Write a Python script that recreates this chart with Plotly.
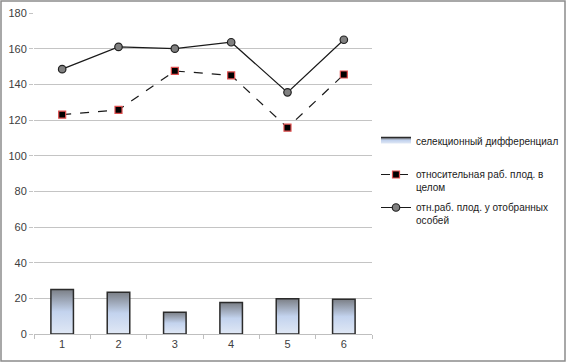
import plotly.graph_objects as go

categories = [1, 2, 3, 4, 5, 6]
tick_labels = ["1", "2", "3", "4", "5", "6"]
sel_diff = [25, 23.4, 12.2, 17.6, 19.8, 19.5]
rel_total = [123, 125.7, 147.5, 145, 115.7, 145.5]
rel_selected = [148.5, 161, 160, 163.6, 135.5, 165]

name_bar = "селекционный дифференциал"
name_dash = "относительная раб. плод. в<br>целом"
name_solid = "отн.раб. плод. у отобранных<br>особей"

half_w = 0.2
fig = go.Figure()
for i, (c, v) in enumerate(zip(categories, sel_diff)):
    fig.add_trace(go.Scatter(
        x=[c - half_w, c - half_w, c + half_w, c + half_w, c - half_w],
        y=[0, v, v, 0, 0],
        mode="lines", fill="toself",
        fillgradient=dict(type="vertical",
                          colorscale=[[0, "#e0e8f5"], [0.5, "#c3d3ee"], [1, "#7b7f86"]]),
        line=dict(color="#2b2b2b", width=1.5),
        name=name_bar, legendgroup="bar", showlegend=(i == 0),
        legend="legend", hoverinfo="skip"))

fig.add_trace(go.Scatter(
    x=categories, y=rel_total, mode="lines+markers", name=name_dash,
    line=dict(color="#1a1a1a", width=1.2, dash="dash"),
    marker=dict(symbol="square", size=7, color="#000000",
                line=dict(color="#e05050", width=1.2)),
    legend="legend2"))

fig.add_trace(go.Scatter(
    x=categories, y=rel_selected, mode="lines+markers", name=name_solid,
    line=dict(color="#1a1a1a", width=1.2),
    marker=dict(symbol="circle", size=7.5, color="#808080",
                line=dict(color="#222222", width=1.2)),
    legend="legend3"))

L, R, T, B = 34, 194, 13, 28
W, H = 566, 362
pw, ph = W - L - R, H - T - B

def px_x(p):
    return (p - L) / pw

def px_y(p):
    return (H - B - p) / ph

legend_font = dict(family="Liberation Sans, Arial, sans-serif", size=10, color="#1a1a1a")
legend_common = dict(font=legend_font, bgcolor="rgba(0,0,0,0)", xanchor="left",
                     yanchor="middle", valign="top", itemwidth=30)

fig.update_layout(
    template="none",
    width=W, height=H,
    margin=dict(l=L, r=R, t=T, b=B, autoexpand=False),
    paper_bgcolor="white", plot_bgcolor="white",
    font=dict(family="Liberation Sans, Arial, sans-serif", size=11, color="#404040"),
    legend=dict(x=px_x(376), y=px_y(141), **legend_common),
    legend2=dict(x=px_x(376), y=px_y(181), **legend_common),
    legend3=dict(x=px_x(376), y=px_y(214), **legend_common),
    xaxis=dict(range=[0.5, 6.5], tickvals=categories, ticktext=tick_labels,
               showgrid=False, zeroline=False, showline=True, linecolor="#bfbfbf",
               linewidth=1, ticks="", tickfont=dict(size=11, color="#404040"),
               automargin=False,
               minor=dict(tickvals=[0.5, 1.5, 2.5, 3.5, 4.5, 5.5, 6.5], ticks="outside",
                          ticklen=4, tickcolor="#bfbfbf", showgrid=False)),
    yaxis=dict(range=[0, 180], tickvals=list(range(0, 181, 20)),
               showgrid=True, gridcolor="#c4c4c4", gridwidth=1, zeroline=False,
               showline=False, ticks="outside", ticklen=4, tickcolor="#c4c4c4",
               automargin=False,
               tickfont=dict(size=11, color="#404040")),
    shapes=[dict(type="rect", xref="paper", yref="paper",
                 x0=px_x(1), x1=px_x(W - 1), y0=px_y(H - 1), y1=px_y(1),
                 line=dict(color="#8c8c8c", width=1.5), layer="above")],
)

fig.write_html("out.html", config={"displayModeBar": False},
               post_script="document.body.style.margin='0';document.body.style.padding='0';")
